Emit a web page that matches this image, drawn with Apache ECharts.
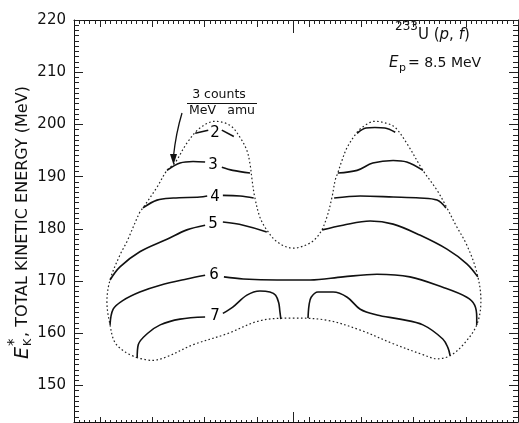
<!DOCTYPE html>
<html>
<head>
<meta charset="utf-8">
<script src="https://cdn.jsdelivr.net/npm/echarts@6/dist/echarts.min.js"></script>
<style>
html,body{margin:0;padding:0;background:#fff;}
#chart{width:519px;height:423px;}
</style>
</head>
<body>
<div id="chart"></div>
<script>
// ---- axis ranges and ticks ----
const xMin = 75, xMax = 160;
const yMin = 143, yMax = 220;
function range(a, b, s) { const r = []; for (let v = a; v <= b + 1e-9; v += s) r.push(v); return r; }
const xMinorTicks = range(76, 159, 1);
const xMajorTicks = [80, 90, 100, 110, 120, 130, 140, 150, 160];
const xSymTick = [117];
const yMinorTicks = range(144, 219, 1);
const yMajorTicks = [150, 160, 170, 180, 190, 200, 210, 220];
const yTickLabels = [150, 160, 170, 180, 190, 200, 210, 220];

// ---- data: fragment mass (amu) vs total kinetic energy (MeV) ----
const envelope = [[87.1,155.3],[84.8,156.4],[82.8,158.3],[81.9,161.6],[81.3,166.0],[81.9,170.2],[83.8,175.0],[85.1,177.5],[87.6,183.2],[88.2,184.0],[90.9,188.0],[92.8,191.2],[94.3,192.6],[96.6,196.4],[99.1,199.3],[102.0,200.6],[104.9,199.8],[106.8,197.5],[108.1,195.0],[108.7,192.4],[109.1,189.3],[109.6,186.1],[110.6,182.2],[111.9,179.8],[113.9,177.5],[116.9,176.3],[120.2,177.3],[122.1,179.2],[123.4,182.2],[124.4,186.1],[125.0,189.3],[125.5,190.7],[126.3,193.1],[127.3,195.6],[129.2,198.5],[130.7,199.8],[132.6,200.6],[134.9,200.2],[136.5,199.4],[138.7,196.4],[141.8,191.2],[144.5,187.4],[146.4,184.0],[148.1,180.7],[150.2,176.9],[152.1,171.7],[152.9,166.3],[152.1,161.6],[149.5,157.8],[147.0,155.7],[144.5,155.1],[141.8,155.9],[136.1,158.0],[129.8,160.6],[123.4,162.5],[116.9,162.9],[110.6,162.4],[104.3,159.9],[97.8,157.8],[92.8,155.5],[89.9,154.8],[87.1,155.3]];

const contour2 = [
  [[98.2,198.3],[100.7,198.9]],
  [[103.3,198.9],[105.6,197.7]],
  [[129.2,198.3],[130.9,199.3],[132.6,199.4],[134.5,199.3],[136.5,198.5]]
];
const contour3 = [
  [[92.8,191.2],[95.3,192.6],[97.8,192.9],[100.1,192.8]],
  [[103.3,191.8],[105.4,191.2],[108.7,190.7]],
  [[125.5,190.7],[129.2,191.2],[132.2,192.6],[136.1,193.1],[138.7,192.8],[141.8,191.2]]
];
const contour4 = [
  [[88.2,184.0],[90.9,185.5],[94.0,185.9],[99.1,186.1],[100.5,186.3]],
  [[103.5,186.4],[106.8,186.3],[109.4,185.9]],
  [[124.8,185.9],[129.8,186.3],[136.1,186.1],[141.2,185.9],[144.5,185.5],[146.2,184.0]]
];
const contour5 = [
  [[81.9,170.2],[83.8,172.7],[87.6,175.6],[92.8,178.0],[96.6,179.8],[100.1,180.7]],
  [[103.5,181.3],[107.4,180.7],[111.9,179.4]],
  [[122.5,179.8],[126.5,180.7],[131.7,181.5],[136.1,180.9],[141.2,178.8],[146.4,176.1],[150.2,173.3],[152.3,170.8]]
];
const contour6 = [
  [[81.9,161.6],[82.5,164.6],[84.4,166.3],[87.6,167.9],[91.5,169.2],[96.6,170.4],[100.1,171.1]],
  [[103.7,170.8],[107.4,170.4],[113.9,170.2],[120.2,170.2],[126.5,170.8],[133.0,171.3],[139.3,170.8],[145.6,168.8],[150.2,166.9],[151.7,165.4],[152.1,163.0],[152.1,161.6]]
];
const contour7 = [
  [[87.1,155.3],[87.3,157.8],[89.0,159.9],[91.5,161.6],[95.3,162.7],[100.1,163.1]],
  [[103.5,163.8],[105.4,165.0],[108.1,167.3],[110.6,168.1],[112.5,167.9],[113.6,167.3],[114.2,165.8],[114.4,164.3],[114.6,162.7]],
  [[119.8,162.9],[120.0,165.4],[120.4,166.9],[121.7,167.9],[124.6,167.9],[127.3,166.9],[129.8,164.6],[133.0,163.5],[137.4,162.7],[141.8,161.6],[145.6,158.9],[146.6,157.2],[147.0,155.7]]
];
const contourLabels = [[102.0,198.3,'2'],[101.6,192.3,'3'],[102.0,186.1,'4'],[101.6,181.0,'5'],[101.8,171.1,'6'],[102.0,163.3,'7']];

// ---- build option ----
const FONT = 'DejaVu Sans';
const INK = '#111';

function xAx(pos, ticks, len, line) {
  return { type: 'value', min: xMin, max: xMax, position: pos,
    axisLine: { show: line, onZero: false, lineStyle: { color: INK, width: 1 } },
    axisTick: { show: true, inside: true, length: len, customValues: ticks, lineStyle: { color: '#222', width: 1 } },
    axisLabel: { show: false }, splitLine: { show: false } };
}
function yAx(pos, ticks, len, line, labels) {
  return { type: 'value', min: yMin, max: yMax, position: pos,
    axisLine: { show: line, onZero: false, lineStyle: { color: INK, width: 1 } },
    axisTick: { show: true, inside: true, length: len, customValues: ticks, lineStyle: { color: '#222', width: 1 } },
    axisLabel: labels ? { show: true, customValues: labels, margin: 8, color: INK, fontFamily: FONT, fontSize: 15 } : { show: false },
    splitLine: { show: false } };
}

const series = [];
series.push({ type: 'line', data: envelope, smooth: 0.35, symbol: 'none', silent: true,
  lineStyle: { color: '#222', width: 1.2, type: [1.6, 2.4] } });
[contour2, contour3, contour4, contour5, contour6, contour7].forEach(c => {
  c.forEach(seg => series.push({ type: 'line', data: seg, smooth: 0.35, symbol: 'none', silent: true,
    lineStyle: { color: INK, width: 1.6 } }));
});
series.push({ type: 'scatter', data: contourLabels, symbol: 'circle', symbolSize: 0, silent: true,
  itemStyle: { color: INK, opacity: 1 },
  emphasis: { disabled: true },
  label: { show: true, position: 'inside', formatter: p => p.value[2], color: '#000', opacity: 1, textBorderWidth: 0,
    fontFamily: FONT, fontSize: 15 } });

const titleGroup = {
  type: 'group', x: 23, y: 221, rotation: Math.PI / 2,
  children: [
    { type: 'text', x: -138, y: 0, style: { text: 'E', fontFamily: FONT, fontSize: 19, fontStyle: 'italic', fill: INK, textAlign: 'left', textVerticalAlign: 'middle' } },
    { type: 'text', x: -125, y: -8, style: { text: '*', fontFamily: FONT, fontSize: 15, fill: INK, textAlign: 'left', textVerticalAlign: 'middle' } },
    { type: 'text', x: -125, y: 5, style: { text: 'K', fontFamily: FONT, fontSize: 11, fill: INK, textAlign: 'left', textVerticalAlign: 'middle' } },
    { type: 'text', x: -116, y: 0, style: { text: ', TOTAL KINETIC ENERGY (MeV)', fontFamily: FONT, fontSize: 16, fill: INK, textAlign: 'left', textVerticalAlign: 'middle' } }
  ]
};

const option = {
  animation: false,
  backgroundColor: '#fff',
  grid: { left: 74, right: 1, top: 20, bottom: 1, containLabel: false },
  xAxis: [
    xAx('bottom', xMinorTicks, 2, true),
    xAx('bottom', xMajorTicks, 5, false),
    xAx('bottom', xSymTick, 10, false),
    xAx('top', xMinorTicks, 4, true),
    xAx('top', xMajorTicks, 7, false),
    xAx('top', xSymTick, 13, false)
  ],
  yAxis: [
    yAx('left', yMinorTicks, 5, true, yTickLabels),
    yAx('left', yMajorTicks, 9, false, null),
    yAx('right', yMinorTicks, 5, true, null),
    yAx('right', yMajorTicks, 9, false, null)
  ],
  series: series,
  graphic: [
    titleGroup,
    { type: 'text', x: 395, y: 27, style: { text: '233', fontFamily: FONT, fontSize: 12, fill: INK, textAlign: 'left', textVerticalAlign: 'middle' } },
    { type: 'text', x: 418, y: 35, style: { text: '{a|U (}{b|p}{a|, }{b|f}{a|)}', fill: INK, textAlign: 'left', textVerticalAlign: 'middle',
        rich: { a: { fontFamily: FONT, fontSize: 15, fill: INK }, b: { fontFamily: FONT, fontSize: 15, fontStyle: 'italic', fill: INK } } } },
    { type: 'text', x: 389, y: 63, style: { text: 'E', fontFamily: FONT, fontSize: 15, fontStyle: 'italic', fill: INK, textAlign: 'left', textVerticalAlign: 'middle' } },
    { type: 'text', x: 399, y: 68, style: { text: 'p', fontFamily: FONT, fontSize: 11, fill: INK, textAlign: 'left', textVerticalAlign: 'middle' } },
    { type: 'text', x: 408, y: 63, style: { text: '= 8.5 MeV', fontFamily: FONT, fontSize: 14, fill: INK, textAlign: 'left', textVerticalAlign: 'middle' } },
    { type: 'text', x: 219, y: 95, style: { text: '3 counts', fontFamily: FONT, fontSize: 12.5, fill: INK, textAlign: 'center', textVerticalAlign: 'middle' } },
    { type: 'line', shape: { x1: 187, y1: 103.5, x2: 257, y2: 103.5 }, style: { stroke: INK, lineWidth: 1.2 } },
    { type: 'text', x: 189, y: 111, style: { text: 'MeV', fontFamily: FONT, fontSize: 12.5, fill: INK, textAlign: 'left', textVerticalAlign: 'middle' } },
    { type: 'text', x: 255, y: 111, style: { text: 'amu', fontFamily: FONT, fontSize: 12.5, fill: INK, textAlign: 'right', textVerticalAlign: 'middle' } },
    { type: 'bezierCurve', shape: { x1: 182, y1: 113, cpx1: 176, cpy1: 133, x2: 173.5, y2: 156 }, style: { stroke: INK, lineWidth: 1.3, fill: null } },
    { type: 'polygon', shape: { points: [[170, 154], [177, 154], [173.5, 165]] }, style: { fill: INK } }
  ]
};

const chart = echarts.init(document.getElementById('chart'), null, { renderer: 'canvas' });
chart.setOption(option);
</script>
</body>
</html>
